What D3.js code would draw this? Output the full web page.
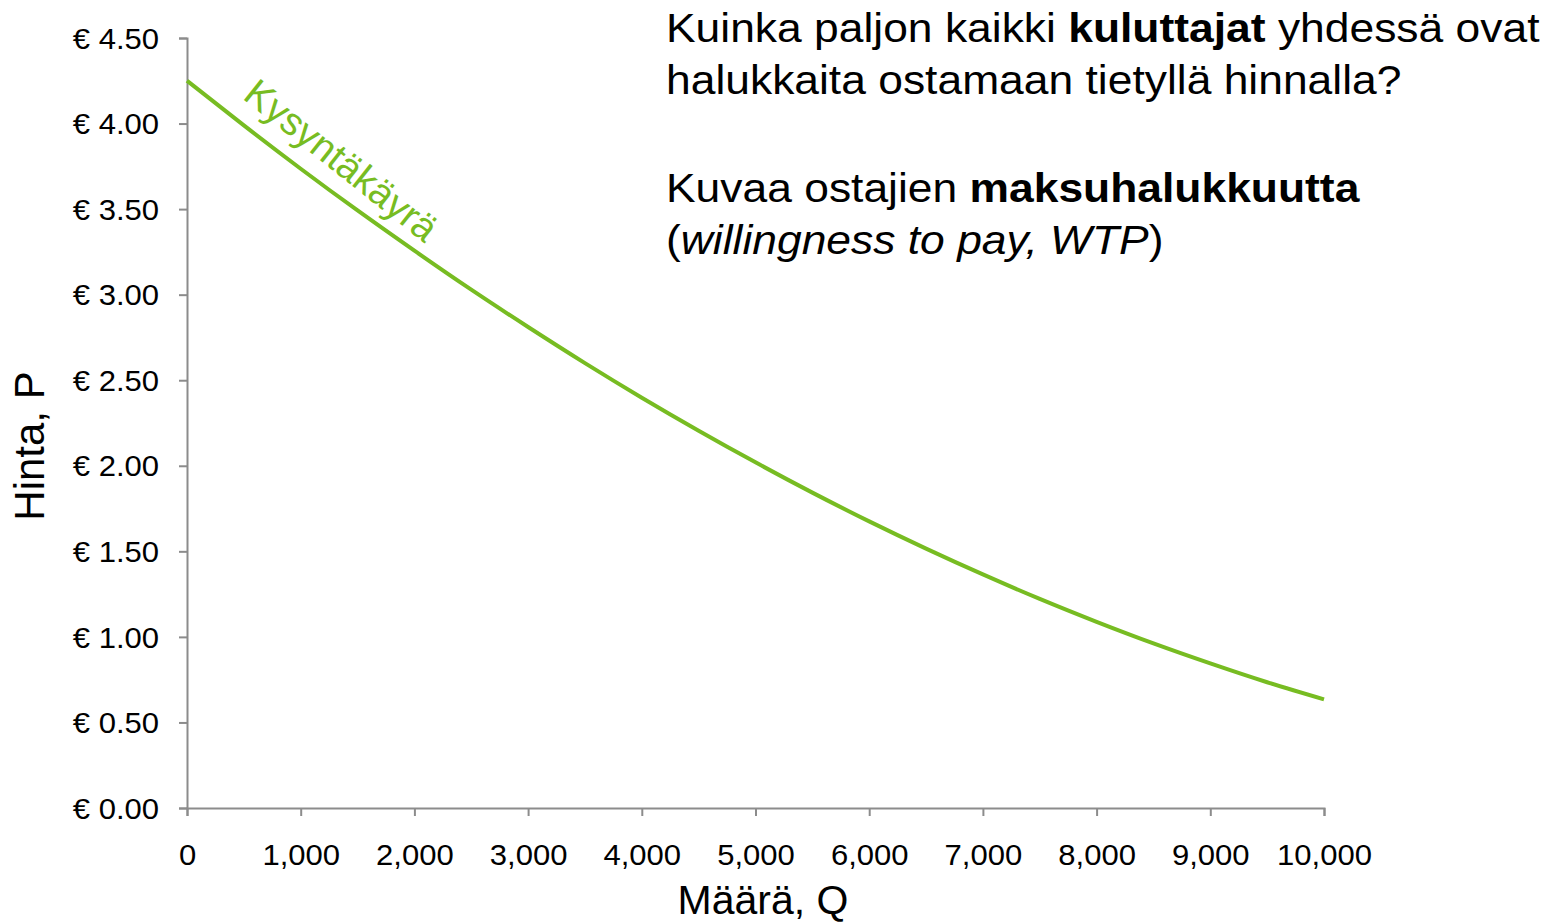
<!DOCTYPE html>
<html>
<head>
<meta charset="utf-8">
<script src="https://cdn.jsdelivr.net/npm/d3@7"></script>
<style>
  html, body { margin: 0; padding: 0; background: #fff; }
  svg { display: block; font-family: "Liberation Sans", Arial, sans-serif; }
  .eje path, .eje line { stroke: #8c8c8c; stroke-width: 2px; }
</style>
</head>
<body>
<div id="graf"></div>
<script>
// datos: maara (Q) ja hinta (P)
maara = [0, 500, 1000, 1500, 2000, 2500, 3000, 3500, 4000, 4500, 5000,
         5500, 6000, 6500, 7000, 7500, 8000, 8500, 9000, 9500, 10000]
hinta = [4.250, 3.989, 3.736, 3.492, 3.257, 3.029, 2.811, 2.600, 2.398, 2.205, 2.020,
         1.843, 1.675, 1.516, 1.365, 1.222, 1.088, 0.962, 0.845, 0.735, 0.635]
yTicks = [0, 0.5, 1, 1.5, 2, 2.5, 3, 3.5, 4, 4.5]
xTicks = [0, 1000, 2000, 3000, 4000, 5000, 6000, 7000, 8000, 9000, 10000]

// texto de la derecha
tekstit = [
  [{t: 'Kuinka paljon kaikki '}, {t: 'kuluttajat', b: true}, {t: ' yhdessä ovat'}],
  [{t: 'halukkaita ostamaan tietyllä hinnalla?'}],
  [{t: 'Kuvaa ostajien '}, {t: 'maksuhalukkuutta', b: true}],
  [{t: '('}, {t: 'willingness to pay, WTP', i: true}, {t: ')'}]
]
rivit = [42, 94, 202, 254]

ancho_total = 1550
alto_total = 924
margins = { top: 38, left: 187, right: 226, bottom: 116 }
ancho = ancho_total - margins.left - margins.right
alto = alto_total - margins.top - margins.bottom

verde = '#77bc22'
estira = 1.11   // el texto original esta algo ensanchado
estiraEje = 1.07

svg = d3.select('#graf').append('svg')
        .attr('width', ancho_total)
        .attr('height', alto_total)

g = svg.append('g')
       .attr('transform', `translate(${ margins.left }, ${ margins.top })`)

// escalas
x = d3.scaleLinear().domain([0, 10000]).range([0, ancho])
y = d3.scaleLinear().domain([0, 4.5]).range([alto, 0])

// ejes
yAxisCall = d3.axisLeft(y)
              .tickValues(yTicks)
              .tickSize(8)
              .tickPadding(20)
              .tickFormat(d => '€ ' + d.toFixed(2))
yAxisGroup = g.append('g').attr('class', 'eje').call(yAxisCall)
yAxisGroup.attr('font-family', null).attr('font-size', 29)
yAxisGroup.selectAll('text')
          .attr('fill', '#000')
          .attr('dy', '0.35em')
          .attr('transform', `translate(-28, 0) scale(${ estiraEje }, 1) translate(28, 0)`)

xAxisCall = d3.axisBottom(x)
              .tickValues(xTicks)
              .tickSize(8)
              .tickPadding(28)
              .tickFormat(d3.format(','))
xAxisGroup = g.append('g').attr('class', 'eje')
              .attr('transform', `translate(0, ${ alto })`)
              .call(xAxisCall)
xAxisGroup.attr('font-family', null).attr('font-size', 29)
xAxisGroup.selectAll('text')
          .attr('fill', '#000')
          .attr('transform', `scale(${ estiraEje }, 1)`)

// curva de demanda
datos = maara.map((q, i) => ({ q: q, p: hinta[i] }))
linea = d3.line()
          .x(d => x(d.q))
          .y(d => y(d.p))
          .curve(d3.curveNatural)
g.append('path')
 .datum(datos)
 .attr('d', linea)
 .attr('fill', 'none')
 .attr('stroke', verde)
 .attr('stroke-width', 4)

// etiqueta de la curva
g.append('text')
 .attr('transform', `translate(${ x(480) }, ${ y(4.15) }) rotate(38.5)`)
 .attr('fill', verde)
 .style('font-size', '39px')
 .text('Kysyntäkäyrä')

// titulos de ejes
svg.append('text')
   .attr('transform', `translate(44, 446) rotate(-90)`)
   .attr('text-anchor', 'middle')
   .style('font-size', '42px')
   .text('Hinta, P')

svg.append('text')
   .attr('x', 763)
   .attr('y', 914)
   .attr('text-anchor', 'middle')
   .style('font-size', '41px')
   .text('Määrä, Q')

// texto explicativo
tekstit.forEach((rivi, i) => {
  t = svg.append('text')
         .attr('transform', `translate(666, ${ rivit[i] }) scale(${ estira }, 1)`)
         .style('font-size', '40px')
  rivi.forEach(o => {
    t.append('tspan')
     .style('font-weight', o.b ? 'bold' : 'normal')
     .style('font-style', o.i ? 'italic' : 'normal')
     .text(o.t)
  })
})
</script>
</body>
</html>
